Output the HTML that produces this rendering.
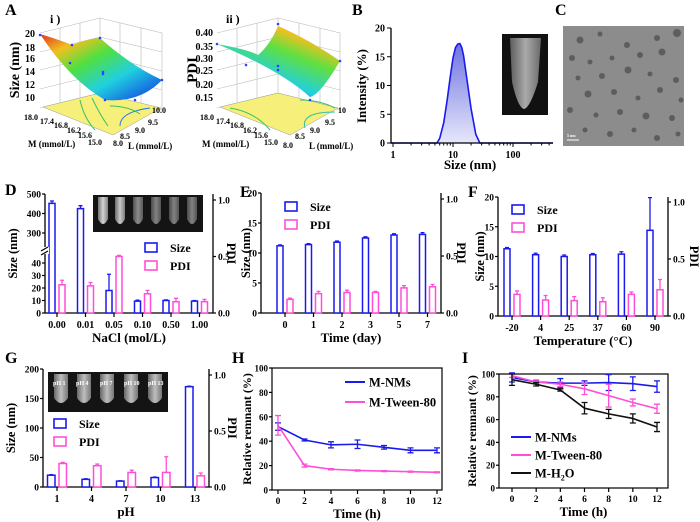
<!DOCTYPE html>
<html><head><meta charset="utf-8">
<style>
html,body{margin:0;padding:0;background:#fff;}
svg{display:block;font-family:"Liberation Serif",serif;font-weight:bold;}
text{font-family:"Liberation Serif",serif;font-weight:bold;}
</style></head>
<body>
<svg id="fig" width="700" height="522" viewBox="0 0 700 522" xmlns="http://www.w3.org/2000/svg">
<defs>
<linearGradient id="surfA" x1="0" y1="0" x2="1" y2="1">
<stop offset="0" stop-color="#e03020"/><stop offset="0.2" stop-color="#f0c020"/><stop offset="0.4" stop-color="#50e040"/><stop offset="0.65" stop-color="#20d0e0"/><stop offset="1" stop-color="#1030e0"/>
</linearGradient>
<linearGradient id="surfB" x1="1" y1="0" x2="0.3" y2="1">
<stop offset="0" stop-color="#e03020"/><stop offset="0.25" stop-color="#f0c020"/><stop offset="0.45" stop-color="#60e040"/><stop offset="0.75" stop-color="#20d0e0"/><stop offset="1" stop-color="#1040e0"/>
</linearGradient>
<linearGradient id="dlsFill" x1="0" y1="0" x2="0" y2="1">
<stop offset="0" stop-color="#6f73e0"/><stop offset="1" stop-color="#e6e7fb"/>
</linearGradient>
<linearGradient id="tube" x1="0" y1="0" x2="1" y2="0">
<stop offset="0" stop-color="#777"/><stop offset="0.5" stop-color="#ddd"/><stop offset="1" stop-color="#888"/>
</linearGradient>
</defs>

<!-- Panel A i -->
<g>
<text x="5" y="15" font-size="16">A</text>
<text x="50" y="23" font-size="12">i )</text>
<g stroke="#bbb" stroke-width="0.6" fill="none">
<polyline points="40,33 100,18 100,93 40,108"/><polyline points="100,18 162,33 162,110 100,93"/>
<line x1="40" y1="52" x2="100" y2="37"/><line x1="40" y1="70" x2="100" y2="55"/><line x1="40" y1="89" x2="100" y2="74"/>
<line x1="100" y1="37" x2="162" y2="52"/><line x1="100" y1="55" x2="162" y2="71"/><line x1="100" y1="74" x2="162" y2="90"/>
<line x1="60" y1="28" x2="60" y2="103"/><line x1="80" y1="23" x2="80" y2="98"/><line x1="120" y1="23" x2="120" y2="98"/><line x1="141" y1="28" x2="141" y2="104"/>
</g>
<polygon points="43,107 100,93 161,108 113,135" fill="#f6f07a" stroke="#999" stroke-width="0.5"/>
<path d="M80,100 Q84,118 95,130 M92,98 Q100,115 108,126 M110,106 Q128,106 140,114" stroke="#3ac060" stroke-width="1" fill="none"/>
<path d="M120,126 Q120,112 150,108" stroke="#2080e0" stroke-width="1" fill="none"/>
<path d="M40,34 Q60,40 72,45 Q90,38 100,38 Q130,65 162,80 Q140,103 105,100 Q70,80 40,34 Z" fill="url(#surfA)"/>
<g fill="#3040ff"><circle cx="40" cy="35" r="1.3"/><circle cx="72" cy="45" r="1.3"/><circle cx="70" cy="63" r="1.3"/><circle cx="100" cy="38" r="1.3"/><circle cx="103" cy="72" r="1.3"/><circle cx="103" cy="74" r="1.3"/><circle cx="162" cy="80" r="1.3"/><circle cx="105" cy="100" r="1.3"/><circle cx="135" cy="100" r="1.3"/></g>
<g font-size="10" text-anchor="end"><text x="35" y="37">20</text><text x="35" y="51">18</text><text x="35" y="62">16</text><text x="35" y="75">14</text><text x="35" y="88">12</text><text x="35" y="101">10</text></g>
<text transform="translate(19,70) rotate(-90)" font-size="14" text-anchor="middle">Size (nm)</text>
<g font-size="8"><text x="24" y="120">18.0</text><text x="40" y="124">17.4</text><text x="54" y="128">16.8</text><text x="67" y="133">16.2</text><text x="78" y="138">15.6</text><text x="88" y="145">15.0</text>
<text x="113" y="146">8.0</text><text x="120" y="139">8.5</text><text x="135" y="133">9.0</text><text x="148" y="125">9.5</text><text x="152" y="113">10.0</text></g>
<text x="28" y="147" font-size="9">M (mmol/L)</text><text x="128" y="149" font-size="9">L (mmol/L)</text>
</g>

<!-- Panel A ii -->
<g>
<text x="226" y="23" font-size="12">ii )</text>
<g stroke="#bbb" stroke-width="0.6" fill="none">
<polyline points="217,33 278,18 278,93 217,108"/><polyline points="278,18 340,33 340,110 278,93"/>
<line x1="217" y1="52" x2="278" y2="37"/><line x1="217" y1="70" x2="278" y2="55"/><line x1="217" y1="89" x2="278" y2="74"/>
<line x1="278" y1="37" x2="340" y2="52"/><line x1="278" y1="55" x2="340" y2="71"/><line x1="278" y1="74" x2="340" y2="90"/>
<line x1="237" y1="28" x2="237" y2="103"/><line x1="257" y1="23" x2="257" y2="98"/><line x1="299" y1="23" x2="299" y2="98"/><line x1="320" y1="28" x2="320" y2="104"/>
</g>
<polygon points="220,107 278,93 338,108 290,135" fill="#f6f07a" stroke="#999" stroke-width="0.5"/>
<path d="M230,108 Q255,112 270,130 M300,100 Q320,100 335,108" stroke="#3ac060" stroke-width="1" fill="none"/>
<path d="M305,128 Q300,112 335,112" stroke="#30c0a0" stroke-width="1" fill="none"/>
<path d="M217,44 Q250,50 258,55 Q270,45 278,26 Q310,40 340,61 Q320,95 310,97 Q280,70 217,44 Z" fill="url(#surfB)"/>
<g fill="#3040ff"><circle cx="217" cy="44" r="1.3"/><circle cx="246" cy="65" r="1.3"/><circle cx="278" cy="24" r="1.3"/><circle cx="278" cy="66" r="1.3"/><circle cx="278" cy="70" r="1.3"/><circle cx="340" cy="61" r="1.3"/><circle cx="310" cy="100" r="1.3"/></g>
<g font-size="10" text-anchor="end"><text x="213" y="36">0.40</text><text x="213" y="50">0.35</text><text x="213" y="62">0.30</text><text x="213" y="74">0.25</text><text x="213" y="88">0.20</text><text x="213" y="101">0.15</text></g>
<text transform="translate(197,70) rotate(-90)" font-size="15" text-anchor="middle">PDI</text>
<g font-size="8"><text x="200" y="120">18.0</text><text x="216" y="124">17.4</text><text x="230" y="128">16.8</text><text x="243" y="133">16.2</text><text x="254" y="138">15.6</text><text x="264" y="145">15.0</text>
<text x="283" y="148">8.0</text><text x="295" y="139">8.5</text><text x="310" y="133">9.0</text><text x="325" y="125">9.5</text><text x="338" y="113">10</text></g>
<text x="202" y="147" font-size="9">M (mmol/L)</text><text x="309" y="149" font-size="9">L (mmol/L)</text>
</g>

<!-- Panel B static parts -->
<text x="352" y="15" font-size="16">B</text>
<text transform="translate(366,86) rotate(-90)" font-size="13" text-anchor="middle">Intensity (%)</text>
<text x="470" y="169" font-size="13" text-anchor="middle">Size (nm)</text>
<g id="gB"></g>
<g>
<rect x="502" y="34" width="46" height="81" fill="#111"/>
<path d="M510,38 L541,38 L538,82 Q530,108 524,109 Q518,108 512,82 Z" fill="url(#tube)" opacity="0.75"/>
</g>

<!-- Panel C -->
<text x="555" y="15" font-size="16">C</text>
<g>
<rect x="563" y="26" width="121" height="120" fill="#8c8c8c"/>
<g fill="#555" opacity="0.85">
<circle cx="580" cy="40" r="3.5"/><circle cx="600" cy="34" r="2.5"/><circle cx="627" cy="45" r="3"/><circle cx="657" cy="38" r="3"/><circle cx="677" cy="33" r="4"/>
<circle cx="572" cy="58" r="3"/><circle cx="590" cy="62" r="2.5"/><circle cx="612" cy="58" r="2.5"/><circle cx="640" cy="55" r="3"/><circle cx="662" cy="52" r="3.5"/>
<circle cx="578" cy="78" r="2.5"/><circle cx="602" cy="76" r="3"/><circle cx="628" cy="70" r="3.5"/><circle cx="650" cy="74" r="2.5"/><circle cx="676" cy="80" r="3"/>
<circle cx="588" cy="94" r="3.5"/><circle cx="614" cy="92" r="3"/><circle cx="638" cy="98" r="2.5"/><circle cx="660" cy="90" r="3"/><circle cx="681" cy="100" r="2.5"/>
<circle cx="570" cy="110" r="3"/><circle cx="596" cy="115" r="2.5"/><circle cx="620" cy="112" r="3"/><circle cx="646" cy="116" r="3.5"/><circle cx="672" cy="118" r="3"/>
<circle cx="585" cy="130" r="2.5"/><circle cx="610" cy="134" r="3"/><circle cx="634" cy="130" r="2.5"/><circle cx="657" cy="138" r="3"/><circle cx="678" cy="134" r="2.5"/>
</g>
<line x1="567" y1="140" x2="579" y2="140" stroke="#fff" stroke-width="1"/>
<text x="567" y="137" font-size="4" fill="#fff">5 nm</text>
</g>

<!-- panel labels row 2/3 -->
<text x="5" y="195" font-size="16">D</text>
<text x="240" y="197" font-size="16">E</text>
<text x="468" y="197" font-size="16">F</text>
<text x="5" y="363" font-size="16">G</text>
<text x="232" y="363" font-size="16">H</text>
<text x="462" y="363" font-size="16">I</text>

<!-- insets D, G -->
<g>
<rect x="93" y="195" width="110" height="37" fill="#141414"/>
<g fill="url(#tube)"><path d="M98,197 h10 v22 q-5,10 -10,0 z" opacity="0.95"/><path d="M115,197 h10 v22 q-5,10 -10,0 z" opacity="0.9"/><path d="M133,197 h10 v22 q-5,10 -10,0 z" opacity="0.6"/><path d="M151,197 h10 v22 q-5,10 -10,0 z" opacity="0.55"/><path d="M169,197 h10 v22 q-5,10 -10,0 z" opacity="0.55"/><path d="M187,197 h10 v22 q-5,10 -10,0 z" opacity="0.55"/></g>
</g>
<g>
<rect x="48" y="372" width="120" height="40" fill="#141414"/>
<g fill="url(#tube)" opacity="0.85"><path d="M54,374 h14 v24 q-7,10 -14,0 z"/><path d="M77,374 h14 v24 q-7,10 -14,0 z"/><path d="M100,374 h14 v24 q-7,10 -14,0 z"/><path d="M124,374 h14 v24 q-7,10 -14,0 z"/><path d="M148,374 h14 v24 q-7,10 -14,0 z"/></g>
<g font-size="6" fill="#fff" font-weight="normal"><text x="53" y="385">pH 1</text><text x="76" y="385">pH 4</text><text x="100" y="385">pH 7</text><text x="124" y="385">pH 10</text><text x="148" y="385">pH 13</text></g>
</g>

<g id="gCharts"></g>
</svg>

<script>
// ---------- DATA ----------
const dlsSizes = [5.4, 6, 7, 8, 9, 10, 11, 12, 13, 14, 15, 17, 20, 24, 28, 30];
const dlsIntensity = [0, 0.8, 3.5, 7.5, 11.5, 14.8, 16.6, 17.2, 17.3, 16.6, 15.2, 11.2, 6, 1.5, 0, 0];
const bTicksY = [0, 5, 10, 15, 20];
const bTicksX = [1, 10, 100];

const nacCats = ['0.00', '0.01', '0.05', '0.10', '0.50', '1.00'];
const nacSize = [452, 425, 18, 9.5, 10, 9.5];
const nacSizeErr = [12, 15, 13, 0.8, 0.5, 0.5];
const nacPdi = [0.25, 0.24, 0.50, 0.17, 0.10, 0.10];
const nacPdiErr = [0.04, 0.03, 0.01, 0.03, 0.03, 0.02];

const dayCats = ['0', '1', '2', '3', '5', '7'];
const daySize = [11.2, 11.4, 11.8, 12.5, 13.0, 13.1];
const daySizeErr = [0.15, 0.15, 0.2, 0.2, 0.2, 0.3];
const dayPdi = [0.12, 0.17, 0.18, 0.18, 0.22, 0.23];
const dayPdiErr = [0.01, 0.02, 0.02, 0.01, 0.02, 0.02];

const tempCats = ['-20', '4', '25', '37', '60', '90'];
const tempSize = [11.3, 10.3, 10.0, 10.3, 10.4, 14.4];
const tempSizeErr = [0.2, 0.25, 0.25, 0.2, 0.4, 5.5];
const tempPdi = [0.19, 0.14, 0.135, 0.125, 0.19, 0.23];
const tempPdiErr = [0.03, 0.04, 0.035, 0.035, 0.02, 0.09];

const phCats = ['1', '4', '7', '10', '13'];
const phSize = [20, 13, 10, 16, 170];
const phSizeErr = [1, 1, 0.5, 1, 1];
const phPdi = [0.21, 0.19, 0.13, 0.13, 0.10];
const phPdiErr = [0.01, 0.015, 0.02, 0.14, 0.025];

const timeH = [0, 2, 4, 6, 8, 10, 12];
const hNms = [52, 41, 37, 37.5, 35, 32.5, 32.5];
const hNmsErr = [3, 0.8, 2.5, 3.5, 1.5, 2, 2];
const hTween = [53, 20, 17, 16, 15.5, 15, 14.5];
const hTweenErr = [8, 1.2, 0.5, 0.5, 0.4, 0.4, 0.4];

const iNms = [97, 93, 92, 92, 92.5, 91.5, 89];
const iNmsErr = [4, 1.5, 4, 2, 7, 6, 5];
const iTween = [98.5, 93, 91, 87, 81, 75, 69.5];
const iTweenErr = [1.5, 1, 2, 5, 10, 3, 4];
const iWater = [95, 91, 86, 70, 65, 61, 53.5];
const iWaterErr = [5, 1.5, 1, 5, 4, 4, 4];

const pctTicks = [0, 20, 40, 60, 80, 100];
const pdiTicks = ['0.0', '0.5', '1.0'];

// ---------- HELPERS ----------
const NS = 'http://www.w3.org/2000/svg';
const root = document.getElementById('gCharts');
function mk(tag, attrs, parent) {
  const e = document.createElementNS(NS, tag);
  for (const k in attrs) e.setAttribute(k, attrs[k]);
  (parent || root).appendChild(e);
  return e;
}
function lin(d0, d1, p0, p1) { return v => p0 + (v - d0) * (p1 - p0) / (d1 - d0); }
const BLUE = '#1a1aee', PINK = '#ff4fd8', BLACK = '#111';

function txt(x, y, s, size, anchor, parent) {
  const t = mk('text', { x: x, y: y, 'font-size': size, 'text-anchor': anchor || 'middle' }, parent);
  t.textContent = s;
  return t;
}
function errBar(x, yTop, yEnd, color, parent) {
  const g = mk('path', { d: `M${x},${yTop}V${yEnd}M${x - 2},${yEnd}H${x + 2}`, stroke: color, 'stroke-width': 1.3, fill: 'none' }, parent);
  
  
}

// ---------- PANEL B ----------
(function () {
  const g = document.getElementById('gB');
  const xs = v => 393 + Math.log10(v) * 60;
  const ys = lin(0, 20, 143, 28);
  let d = `M${xs(dlsSizes[0])},${ys(0)}`;
  dlsSizes.forEach((s, i) => { d += `L${xs(s)},${ys(dlsIntensity[i])}`; });
  const area = mk('path', { d: d + 'Z', fill: 'url(#dlsFill)', stroke: 'none' }, g);
  
  
  const line = mk('path', { d: d.replace(/^M[^L]*/, 'M391,143L' + xs(dlsSizes[0]) + ',' + ys(0)) + 'L553,143', fill: 'none', stroke: BLUE, 'stroke-width': 1.6 }, g);
  
  
  const ax = mk('path', { d: 'M391,28V143H553', stroke: '#000', 'stroke-width': 1.3, fill: 'none' }, g);
  
  
  bTicksY.forEach(v => { mk('line', { x1: 387, x2: 391, y1: ys(v), y2: ys(v), stroke: '#000' }, g); txt(385, ys(v) + 3.5, String(v), 10, 'end', g); });
  for (let dec = 0; dec < 3; dec++) for (let m = 1; m < 10; m++) {
    const v = m * Math.pow(10, dec); const x = xs(v); if (x > 553) continue;
    mk('line', { x1: x, x2: x, y1: 143, y2: m === 1 ? 147 : 145.5, stroke: '#000' }, g);
  }
  bTicksX.forEach(v => txt(xs(v), 158, String(v), 10, 'middle', g));
})();

// ---------- BAR CHARTS ----------
function barChart(o) {
  const g = mk('g', {});
  
  
  const n = o.cats.length;
  const cx = i => o.cx0 + i * o.step;
  const axes = mk('path', { d: `M${o.xl},${o.yTop}V${o.y0}H${o.xr}V${o.yTopR}`, stroke: '#000', 'stroke-width': 1.3, fill: 'none' }, g);
  
  
  o.leftTicks.forEach(v => {
    const y = o.ys(v);
    mk('line', { x1: o.xl - 3, x2: o.xl, y1: y, y2: y, stroke: '#000', 'stroke-width': 1.2 }, g);
    txt(o.xl - 4, y + 3.5, String(v), 9.5, 'end', g);
  });
  pdiTicks.forEach(s => {
    const y = o.yp(parseFloat(s));
    mk('line', { x1: o.xr, x2: o.xr + 3, y1: y, y2: y, stroke: '#000', 'stroke-width': 1.2 }, g);
    txt(o.xr + 5, y + 3.5, s, 9.5, 'start', g);
  });
  for (let i = 0; i < n; i++) {
    mk('line', { x1: cx(i), x2: cx(i), y1: o.y0, y2: o.y0 + 4, stroke: '#000', 'stroke-width': 1.2 }, g);
    const t = txt(cx(i), o.y0 + 15, o.cats[i], 10, 'middle', g);
    
    
    const bs = mk('rect', { x: cx(i) - o.off - o.bw, y: o.ys(o.size[i]), width: o.bw, height: o.y0 - o.ys(o.size[i]), fill: '#fff', stroke: BLUE, 'stroke-width': 1.5 }, g);
    
    
    errBar(cx(i) - o.off - o.bw / 2, o.ys(o.size[i]), o.ys(o.size[i] + o.sizeErr[i]), BLUE, g);
    const bp = mk('rect', { x: cx(i) + o.off, y: o.yp(o.pdi[i]), width: o.bw, height: o.y0 - o.yp(o.pdi[i]), fill: '#fff', stroke: PINK, 'stroke-width': 1.5 }, g);
    
    
    errBar(cx(i) + o.off + o.bw / 2, o.yp(o.pdi[i]), o.yp(o.pdi[i] + o.pdiErr[i]), PINK, g);
  }
  const yt = mk('text', { transform: `translate(${o.ytX},${(o.yTop + o.y0) / 2}) rotate(-90)`, 'font-size': 12.5, 'text-anchor': 'middle' }, g);
  yt.textContent = 'Size (nm)';
  
  
  const pt = mk('text', { transform: `translate(${o.ptX},${(o.yTopR + o.y0) / 2}) rotate(90)`, 'font-size': 12.5, 'text-anchor': 'middle' }, g);
  pt.textContent = 'PDI';
  
  
  const xt = txt((o.xl + o.xr) / 2, o.y0 + 29, o.xTitle, 13, 'middle', g);
  
  
  [['Size', BLUE], ['PDI', PINK]].forEach((p, k) => {
    const y = o.legY + k * 18;
    const r = mk('rect', { x: o.legX, y: y - 5, width: 12, height: 9, fill: '#fff', stroke: p[1], 'stroke-width': 1.6 }, g);
    
    
    const t = txt(o.legX + 25, y + 4, p[0], 12, 'start', g);
    
    
  });
  return g;
}

const yD = v => v <= 45 ? 313 - v * 1.25 : 233 - (v - 300) * 0.195;
const gD = barChart({ name: 'panel-d-nacl-chart', cats: nacCats, size: nacSize, sizeErr: nacSizeErr, pdi: nacPdi, pdiErr: nacPdiErr,
  xl: 45, xr: 213, y0: 313, yTop: 194, yTopR: 194, ys: yD, yp: lin(0, 1, 313, 200), cx0: 57, step: 28.5, off: 2, bw: 6,
  leftTicks: [0, 10, 20, 30, 40, 300, 400, 500], xTitle: 'NaCl (mol/L)', legX: 145, legY: 248, ytX: 17, ptX: 227 });
const brk = mk('g', {}, gD);


mk('rect', { x: 42, y: 247, width: 7, height: 7, fill: '#fff' }, brk);
mk('path', { d: 'M41,251l7,-4M41,255l7,-4', stroke: '#000', 'stroke-width': 1.2 }, brk);

barChart({ name: 'panel-e-time-chart', cats: dayCats, size: daySize, sizeErr: daySizeErr, pdi: dayPdi, pdiErr: dayPdiErr,
  xl: 261, xr: 441, y0: 313, yTop: 193, yTopR: 193, ys: lin(0, 20, 313, 193), yp: lin(0, 1, 313, 199), cx0: 285, step: 28.5, off: 2, bw: 6,
  leftTicks: [0, 5, 10, 15, 20], xTitle: 'Time (day)', legX: 285, legY: 207, ytX: 250, ptX: 457 });

barChart({ name: 'panel-f-temperature-chart', cats: tempCats, size: tempSize, sizeErr: tempSizeErr, pdi: tempPdi, pdiErr: tempPdiErr,
  xl: 498, xr: 668, y0: 316, yTop: 197, yTopR: 197, ys: lin(0, 20, 316, 197), yp: lin(0, 1, 316, 202), cx0: 512, step: 28.6, off: 2, bw: 6,
  leftTicks: [0, 5, 10, 15, 20], xTitle: 'Temperature (°C)', legX: 512, legY: 210, ytX: 484, ptX: 690 });

barChart({ name: 'panel-g-ph-chart', cats: phCats, size: phSize, sizeErr: phSizeErr, pdi: phPdi, pdiErr: phPdiErr,
  xl: 43, xr: 209, y0: 487, yTop: 369, yTopR: 369, ys: lin(0, 200, 487, 369), yp: lin(0, 1, 487, 375), cx0: 57, step: 34.5, off: 2, bw: 7.5,
  leftTicks: [0, 50, 100, 150, 200], xTitle: 'pH', legX: 54, legY: 424, ytX: 15, ptX: 228 });

// ---------- LINE CHARTS ----------
function lineChart(o) {
  const g = mk('g', {});
  
  
  const xs = lin(0, 12, o.x0, o.x12), ys = lin(0, 100, o.y0, o.y100);
  const fr = mk('rect', { x: o.xl, y: o.y100, width: o.xr - o.xl, height: o.y0 - o.y100, fill: 'none', stroke: '#000', 'stroke-width': 1.2 }, g);
  
  
  pctTicks.forEach(v => {
    mk('line', { x1: o.xl - 3, x2: o.xl, y1: ys(v), y2: ys(v), stroke: '#000', 'stroke-width': 1.2 }, g);
    txt(o.xl - 4, ys(v) + 3.5, String(v), 9, 'end', g);
  });
  timeH.forEach(t => {
    mk('line', { x1: xs(t), x2: xs(t), y1: o.y0, y2: o.y0 + 4, stroke: '#000', 'stroke-width': 1.2 }, g);
    txt(xs(t), o.y0 + 14, String(t), 9.5, 'middle', g);
  });
  const yt = mk('text', { transform: `translate(${o.ytX},${(o.y0 + o.y100) / 2}) rotate(-90)`, 'font-size': 12, 'text-anchor': 'middle' }, g);
  yt.textContent = 'Relative remnant (%)';
  
  
  const xt = txt((o.xl + o.xr) / 2, o.y0 + 28, 'Time (h)', 13, 'middle', g);
  
  
  o.series.forEach((s, k) => {
    const pts = timeH.map((t, i) => `${xs(t)},${ys(s.vals[i])}`).join(' ');
    const pl = mk('polyline', { points: pts, fill: 'none', stroke: s.color, 'stroke-width': 1.6 }, g);
    
    
    timeH.forEach((t, i) => {
      const x = xs(t), yA = ys(s.vals[i] + s.err[i]), yB = ys(s.vals[i] - s.err[i]);
      const eb = mk('path', { d: `M${x},${yA}V${yB}M${x - 3},${yA}H${x + 3}M${x - 3},${yB}H${x + 3}`, stroke: s.color, 'stroke-width': 1.3, fill: 'none' }, g);
      
      
    });
    const ly = o.legY + k * o.legStep;
    const ll = mk('line', { x1: o.legX, x2: o.legX + 20, y1: ly, y2: ly, stroke: s.color, 'stroke-width': 2 }, g);
    
    
    const lt = mk('text', { x: o.legX + 24, y: ly + 4.5, 'font-size': 12.5 }, g);
    
    
    if (s.sub) { lt.textContent = s.label; const ts = mk('tspan', { 'font-size': 8, dy: 3 }, lt); ts.textContent = s.sub; const t2 = mk('tspan', { dy: -3 }, lt); t2.textContent = s.tail; }
    else lt.textContent = s.label;
  });
}
lineChart({ name: 'panel-h-remnant-chart', xl: 272, xr: 442, x0: 278, x12: 437, y0: 490, y100: 368, legX: 345, legY: 382, legStep: 20, ytX: 251,
  series: [{ vals: hNms, err: hNmsErr, color: BLUE, label: 'M-NMs' }, { vals: hTween, err: hTweenErr, color: PINK, label: 'M-Tween-80' }] });
lineChart({ name: 'panel-i-remnant-chart', xl: 499, xr: 668, x0: 512, x12: 657, y0: 488, y100: 374, legX: 511, legY: 437, legStep: 18, ytX: 476,
  series: [{ vals: iNms, err: iNmsErr, color: BLUE, label: 'M-NMs' }, { vals: iTween, err: iTweenErr, color: PINK, label: 'M-Tween-80' },
           { vals: iWater, err: iWaterErr, color: BLACK, label: 'M-H', sub: '2', tail: 'O' }] });
</script>
</body></html>
